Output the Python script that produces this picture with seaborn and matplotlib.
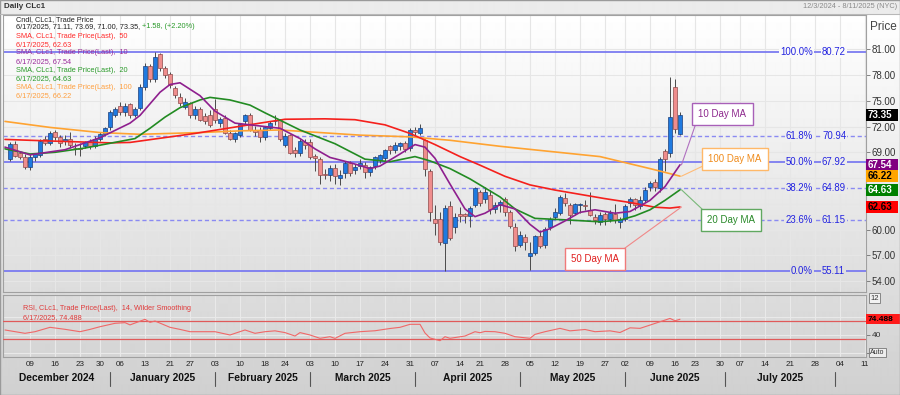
import numpy as np
import pandas as pd
import matplotlib
matplotlib.use("Agg")
import matplotlib.pyplot as plt
import matplotlib.transforms as mtransforms
from matplotlib.patches import Rectangle
import seaborn as sns

# ---------------- data ----------------
calendar_start = "2024-12-02"
calendar_end = "2025-08-11"
market_holidays = ["2024-12-25", "2025-01-01", "2025-01-20", "2025-02-17",
                   "2025-04-18", "2025-05-26", "2025-06-19", "2025-07-04"]
first_bar = "2024-12-03"

opens = [68.2, 70.0, 68.9, 68.5, 67.3, 68.4, 68.7, 70.5, 70.1, 71.4,
         70.8, 70.3, 70.6, 69.5, 69.5, 69.7, 70.3, 69.7, 70.6, 71.1,
         71.9, 73.3, 74.4, 73.7, 74.6, 73.4, 74.2, 76.6, 79.0, 77.5,
         80.4, 78.8, 78.1, 76.5, 75.5, 74.3, 74.7, 73.3, 74.1, 73.2,
         73.3, 74.1, 72.4, 73.0, 71.2, 70.6, 71.0, 72.6, 73.3, 71.6,
         71.6, 70.8, 71.8, 72.6, 72.8, 69.9, 71.0, 69.3, 68.9, 70.2,
         70.2, 68.6, 68.2, 66.5, 66.4, 67.2, 66.0, 66.6, 67.8, 66.9,
         67.4, 67.5, 66.7, 67.4, 68.1, 68.3, 69.7, 69.3, 69.7, 70.1,
         69.5, 71.6, 71.3, 70.4, 66.8, 61.2, 61.2, 58.4, 62.7, 60.3,
         61.8, 61.8, 61.6, 62.9, 64.4, 63.5, 64.0, 62.4, 62.9, 63.5,
         62.0, 60.35, 58.2, 59.1, 56.95, 57.3, 59.2, 58.2, 60.35, 61.5,
         61.9, 63.7, 62.9, 61.9, 62.9, 62.9, 62.3, 61.5, 60.9, 61.8,
         61.2, 61.8, 60.9, 61.2, 63.1, 63.5, 62.8, 63.45, 64.9, 65.5,
         64.8, 69.1, 68.96, 76.6, 71.11]
highs = [70.2, 70.3, 69.1, 68.8, 68.8, 68.9, 70.5, 70.9, 71.5, 71.6,
         71.0, 71.0, 71.4, 70.1, 70.1, 70.3, 70.5, 70.9, 71.4, 72.0,
         73.9, 74.3, 74.9, 74.8, 74.8, 74.3, 77.0, 79.4, 79.3, 80.72,
         80.6, 79.0, 78.3, 76.7, 75.9, 75.3, 74.9, 74.4, 74.3, 73.6,
         73.9, 75.2, 73.1, 73.3, 71.6, 71.4, 72.4, 73.5, 73.6, 72.1,
         71.9, 72.1, 72.6, 73.4, 72.9, 71.2, 71.1, 69.6, 70.5, 70.5,
         70.6, 68.8, 68.4, 67.0, 67.5, 67.6, 66.9, 68.0, 68.0, 67.6,
         68.2, 67.9, 67.4, 68.6, 68.8, 69.4, 69.9, 70.2, 70.2, 70.3,
         71.8, 72.0, 72.3, 70.6, 67.0, 62.9, 62.0, 62.9, 63.3, 61.9,
         62.6, 61.9, 62.8, 65.0, 64.6, 64.9, 64.6, 63.2, 63.4, 63.8,
         62.3, 60.8, 59.8, 59.5, 58.6, 59.4, 60.0, 60.3, 61.5, 62.5,
         64.0, 64.2, 63.1, 63.1, 63.1, 63.4, 64.4, 61.8, 62.0, 62.0,
         62.3, 63.0, 61.5, 63.0, 63.8, 63.7, 63.9, 64.9, 65.7, 65.9,
         68.4, 69.4, 77.8, 77.6, 73.69]
lows = [68.0, 68.5, 68.2, 67.0, 66.9, 68.0, 68.5, 69.8, 69.9, 70.4,
        69.6, 69.9, 69.5, 68.7, 68.6, 69.5, 69.4, 69.5, 70.3, 70.9,
        71.6, 73.1, 73.4, 73.2, 73.0, 73.1, 73.9, 76.3, 77.2, 77.2,
        78.5, 77.7, 76.5, 75.3, 74.4, 74.0, 73.0, 72.9, 72.6, 72.3,
        72.0, 72.4, 71.9, 71.1, 70.4, 70.2, 70.8, 72.3, 71.5, 70.9,
        70.2, 70.4, 71.6, 72.2, 70.3, 69.6, 68.8, 68.5, 68.6, 69.4,
        68.2, 66.8, 65.3, 65.9, 65.7, 65.3, 65.2, 66.0, 66.2, 66.5,
        67.0, 66.0, 66.2, 67.0, 67.8, 68.0, 68.8, 68.9, 69.3, 69.0,
        69.2, 71.0, 71.0, 66.2, 61.0, 59.4, 58.2, 55.2, 58.8, 59.6,
        60.9, 60.8, 60.3, 62.6, 62.8, 63.1, 61.8, 61.9, 62.1, 61.6,
        60.2, 57.5, 58.0, 57.6, 55.3, 57.0, 57.9, 57.9, 60.0, 61.2,
        61.7, 62.8, 60.6, 61.7, 61.9, 62.3, 61.6, 60.7, 60.5, 60.5,
        60.9, 60.8, 60.2, 61.0, 62.6, 62.3, 62.4, 63.2, 64.5, 64.5,
        64.4, 66.8, 68.5, 71.2, 71.00]
closes = [70.0, 68.6, 68.4, 67.3, 68.5, 68.8, 70.3, 70.1, 71.3, 70.8,
          70.1, 70.6, 69.9, 69.45, 69.4, 70.2, 69.7, 70.6, 71.1, 71.8,
          73.7, 74.1, 73.7, 74.4, 73.4, 74.0, 76.6, 79.0, 77.6, 80.1,
          78.8, 78.0, 76.8, 75.7, 74.7, 74.9, 73.4, 74.0, 72.8, 72.6,
          72.2, 72.8, 72.9, 71.2, 70.6, 71.2, 72.3, 73.3, 71.6, 71.4,
          70.8, 71.9, 72.4, 72.6, 70.6, 70.9, 68.9, 68.9, 70.3, 69.85,
          68.5, 68.3, 66.4, 66.3, 67.2, 66.2, 66.4, 67.8, 66.6, 67.3,
          67.8, 66.7, 67.3, 68.4, 68.7, 69.3, 69.3, 69.85, 70.1, 69.4,
          71.6, 71.4, 71.8, 67.0, 62.1, 60.8, 58.6, 62.5, 59.0, 61.5,
          61.6, 61.6, 62.5, 64.8, 63.1, 64.4, 62.4, 62.9, 63.2, 62.1,
          60.4, 58.1, 59.4, 58.5, 57.3, 59.2, 58.1, 60.1, 61.2, 62.1,
          63.8, 63.1, 61.7, 63.0, 62.9, 62.7, 61.7, 61.1, 61.7, 61.2,
          61.9, 61.1, 61.2, 62.7, 63.5, 62.9, 63.45, 64.6, 65.4, 65.0,
          68.2, 68.2, 73.1, 71.77, 73.35]

sma10_dates = ["2024-12-02", "2024-12-09", "2024-12-18", "2024-12-30", "2025-01-08",
               "2025-01-10", "2025-01-16", "2025-01-21", "2025-01-23", "2025-01-29",
               "2025-02-03", "2025-02-07", "2025-02-18", "2025-02-21", "2025-02-27",
               "2025-03-04", "2025-03-07", "2025-03-13", "2025-03-19", "2025-03-21",
               "2025-03-27", "2025-04-01", "2025-04-03", "2025-04-07", "2025-04-10",
               "2025-04-15", "2025-04-17", "2025-04-22", "2025-04-25", "2025-04-30",
               "2025-05-05", "2025-05-07", "2025-05-09", "2025-05-14", "2025-05-19",
               "2025-05-22", "2025-05-29", "2025-06-03", "2025-06-09", "2025-06-12",
               "2025-06-17"]
sma10_vals = [69.6, 68.7, 69.3, 70.7, 72.4, 73.3, 76.0, 76.9, 77.1, 75.6,
              73.8, 72.4, 72.0, 71.8, 70.6, 69.4, 68.4, 67.8, 67.1, 67.4,
              68.8, 69.9, 69.6, 68.3, 65.3, 62.4, 61.5, 61.9, 62.9, 62.4,
              60.6, 59.7, 60.1, 61.0, 62.0, 62.3, 61.9, 62.1, 63.4, 65.0,
              67.54]
sma20_dates = ["2024-12-02", "2024-12-09", "2024-12-16", "2024-12-24", "2025-01-09",
               "2025-01-14", "2025-01-17", "2025-01-23", "2025-01-29", "2025-01-31",
               "2025-02-06", "2025-02-12", "2025-02-18", "2025-02-27", "2025-03-10",
               "2025-03-18", "2025-03-25", "2025-04-01", "2025-04-04", "2025-04-10",
               "2025-04-16", "2025-04-25", "2025-04-30", "2025-05-06", "2025-05-15",
               "2025-05-23", "2025-05-30", "2025-06-04", "2025-06-09", "2025-06-12",
               "2025-06-17"]
sma20_vals = [69.4, 68.8, 69.0, 69.5, 70.6, 71.8, 73.1, 74.2, 75.1, 75.4,
              75.1, 74.5, 73.6, 71.6, 70.0, 68.2, 67.9, 68.5, 68.0, 67.1,
              65.9, 63.8, 62.4, 61.3, 61.1, 60.9, 61.1, 61.6, 62.3, 63.4,
              64.63]
sma50_dates = ["2024-12-02", "2024-12-16", "2025-01-02", "2025-01-08", "2025-01-28",
               "2025-02-14", "2025-02-24", "2025-03-06", "2025-03-14", "2025-03-24",
               "2025-03-31", "2025-04-07", "2025-04-14", "2025-04-21", "2025-04-28",
               "2025-05-05", "2025-05-12", "2025-05-19", "2025-05-27", "2025-06-03",
               "2025-06-10", "2025-06-13", "2025-06-17"]
sma50_vals = [70.5, 70.3, 70.1, 70.15, 71.2, 72.4, 72.85, 72.9, 72.8, 72.2,
              71.2, 69.9, 68.5, 67.5, 66.2, 65.2, 64.6, 64.1, 63.6, 63.15,
              62.6, 62.5, 62.63]
sma100_dates = ["2024-12-02", "2024-12-13", "2024-12-30", "2025-01-10", "2025-01-29",
                "2025-02-10", "2025-02-21", "2025-03-05", "2025-03-17", "2025-03-31",
                "2025-04-10", "2025-04-25", "2025-05-09", "2025-05-23", "2025-06-09",
                "2025-06-17"]
sma100_vals = [72.6, 71.9, 71.3, 71.1, 71.3, 71.5, 71.6, 71.3, 71.0, 70.8,
               70.4, 69.7, 69.1, 68.5, 67.1, 66.22]

rsi_dates = ["2024-12-02", "2024-12-06", "2024-12-10", "2024-12-13", "2024-12-18",
             "2024-12-23", "2024-12-26", "2024-12-30", "2025-01-03", "2025-01-07",
             "2025-01-08", "2025-01-13", "2025-01-14", "2025-01-15", "2025-01-21",
             "2025-01-23", "2025-01-27", "2025-01-29", "2025-02-03", "2025-02-06",
             "2025-02-11", "2025-02-13", "2025-02-18", "2025-02-20", "2025-02-24",
             "2025-02-26", "2025-02-27", "2025-03-03", "2025-03-05", "2025-03-07",
             "2025-03-10", "2025-03-12", "2025-03-17", "2025-03-20", "2025-03-25",
             "2025-03-27", "2025-03-31", "2025-04-02", "2025-04-03", "2025-04-04",
             "2025-04-08", "2025-04-09", "2025-04-10", "2025-04-15", "2025-04-17",
             "2025-04-21", "2025-04-22", "2025-04-24", "2025-04-28", "2025-04-30",
             "2025-05-05", "2025-05-06", "2025-05-08", "2025-05-13", "2025-05-15",
             "2025-05-20", "2025-05-22", "2025-05-28", "2025-05-30", "2025-06-03",
             "2025-06-05", "2025-06-09", "2025-06-11", "2025-06-13", "2025-06-16",
             "2025-06-17"]
rsi_vals = [50.7, 43.3, 46.9, 56.6, 52.2, 46.9, 52.0, 58.0, 65.5, 67.0,
            62.0, 74.4, 67.7, 70.6, 56.6, 52.0, 46.9, 46.9, 46.9, 39.6,
            50.7, 43.3, 46.9, 48.8, 44.9, 37.3, 44.9, 39.6, 32.2, 35.8,
            32.0, 43.3, 46.9, 49.0, 54.0, 56.6, 63.3, 63.3, 44.0, 33.0,
            26.9, 35.8, 32.2, 37.3, 46.9, 44.6, 47.5, 46.9, 43.3, 35.8,
            32.2, 41.0, 46.9, 54.3, 48.8, 51.8, 46.9, 48.8, 45.1, 55.5,
            54.3, 61.6, 69.0, 76.4, 71.2, 74.488]

fib_pcts = ["100.0%", "61.8%", "50.0%", "38.2%", "23.6%", "0.0%"]
fib_vals = [80.72, 70.94, 67.92, 64.89, 61.15, 55.11]
price_ticks = [54, 57, 60, 63, 66, 69, 72, 75, 78, 81]
price_ticks_hidden = [63, 66]   # covered by the value tags in the reference
month_names = ["December 2024", "January 2025", "February 2025", "March 2025",
               "April 2025", "May 2025", "June 2025", "July 2025", "August 2025"]

# ---------------- setup ----------------
sns.set_theme(style="white")
plt.rcParams["font.family"] = ["Liberation Sans", "DejaVu Sans"]

W, H = 900, 395
fig = plt.figure(figsize=(W / 100, H / 100), dpi=100)
fig.patch.set_facecolor("#d0d0d0")


def fxp(x):
    return x / W


def fyp(y):
    return 1 - y / H


def bg_level(y):
    if y < 14:
        return 0.925
    if y <= 292:
        return 1.0 - 0.135 * (y - 14) / 278
    return 0.865 - 0.05 * (y - 292) / 103


grad = np.array([bg_level(y) for y in range(H)])
bgimg = np.repeat(grad[:, None], 2, axis=1)
bgax = fig.add_axes([0, 0, 1, 1], zorder=-5)
bgax.imshow(bgimg, cmap="gray", vmin=0, vmax=1, aspect="auto",
            extent=[0, 1, 0, 1], interpolation="bilinear")
bgax.set_axis_off()
fig.add_artist(plt.Line2D([0, 1], [fyp(14), fyp(14)], color="#b8b8b8", lw=0.8))

# calendar
days = pd.bdate_range(calendar_start, calendar_end)
days = days[~days.isin(pd.to_datetime(market_holidays))]
pos = {d: i for i, d in enumerate(days)}


def xi(ds):
    return np.array([pos[pd.Timestamp(s)] for s in ds])


i0 = pos[pd.Timestamp(first_bar)]
bar_x = np.arange(i0, i0 + len(closes))
last_x = bar_x[-1]

week_pos, week_lab = [], []
wk = days.to_series().groupby(days.to_period("W-SUN")).first()
for d in wk:
    if d > days[0]:
        week_pos.append(pos[d])
        week_lab.append(d.strftime("%d"))

XL = (-0.4, 172.2)
PY = (52.72, 85.0)

# ---------------- price panel ----------------
ax = fig.add_axes([fxp(3), fyp(292), fxp(863), 277 / H])
ax.set_facecolor("none")
ax.set_xlim(*XL)
ax.set_ylim(*PY)
ax.set_xticks(week_pos)
ax.tick_params(axis="x", bottom=False, labelbottom=False)
ax.set_yticks(price_ticks)
ax.set_yticklabels(["" if v in price_ticks_hidden else f"{v:.2f}" for v in price_ticks])
ax.yaxis.tick_right()
ax.tick_params(axis="y", right=True, left=False, length=3, width=0.6,
               color="#707070", labelsize=7, labelcolor="#333333", pad=1)
ax.grid(True, color="#e6e6e6", lw=0.8)
for s in ax.spines.values():
    s.set_color("#a0a0a0")
    s.set_linewidth(0.8)

o = np.array(opens); h = np.array(highs); l = np.array(lows); c = np.array(closes)
up = c >= o
blo = np.minimum(o, c)
bh = np.maximum(np.abs(c - o), 0.07)
ax.vlines(bar_x, l, h, color="#4a4a4a", lw=0.7, zorder=3)
ax.bar(bar_x[up], bh[up], bottom=blo[up], width=0.64, color="#1f7ae0",
       edgecolor="#1d3f7a", lw=0.5, zorder=4)
ax.bar(bar_x[~up], bh[~up], bottom=blo[~up], width=0.64, color="#ef8d8d",
       edgecolor="#8e4a4a", lw=0.5, zorder=4)

ma_specs = [(sma100_dates, sma100_vals, "#ffa331"),
            (sma50_dates, sma50_vals, "#f5201c"),
            (sma20_dates, sma20_vals, "#228b22"),
            (sma10_dates, sma10_vals, "#8e1f8e")]
for dts, vals, col in ma_specs:
    sns.lineplot(x=xi(dts), y=vals, ax=ax, color=col, lw=1.2, estimator=None,
                 sort=False, legend=False, zorder=5)
ax.set_xlabel("")
ax.set_ylabel("")


def ypx(v):
    return 49.3 + (81 - v) * 8.581


for pct, v in zip(fib_pcts, fib_vals):
    solid = pct in ("100.0%", "50.0%", "0.0%")
    ax.axhline(v, color="#7b7bf0" if solid else "#8a8af2",
               lw=1.3 if solid else 1.0, ls="-" if solid else (0, (3, 2)), zorder=2)
    fc = str(bg_level(ypx(v)))
    ax.text(161.6, v, pct, ha="right", va="center", fontsize=6.9, color="#2323e0",
            zorder=6, bbox=dict(boxstyle="square,pad=0.12", fc=fc, ec="none"))
    ax.text(163.4, v, f"{v:.2f}", ha="left", va="center", fontsize=6.9,
            color="#2323e0", zorder=6,
            bbox=dict(boxstyle="square,pad=0.12", fc=fc, ec="none"))

# value tags on the right axis
trans = mtransforms.blended_transform_factory(ax.transAxes, ax.transData)
tags = [(closes[-1], "black", "white"), (sma10_vals[-1], "#800080", "white"),
        (sma100_vals[-1], "#ffa500", "black"), (sma20_vals[-1], "#008000", "white"),
        (sma50_vals[-1], "#ff0000", "black")]
tag_h = 11.5 / 8.581
for v, bgc, tc in tags:
    ax.add_patch(Rectangle((1.0, v - tag_h / 2), 32 / 863, tag_h, transform=trans,
                           fc=bgc, ec="none", clip_on=False, zorder=10))
    ax.text(1.0 + 1.5 / 863, v, f"{v:.2f}", transform=trans, ha="left", va="center",
            fontsize=7, weight="bold", color=tc, zorder=11, clip_on=False)

# MA callout boxes
callouts = [("10 Day MA", (722.5, 113.8), (695, 126), sma10_vals[-1], "#8e2a8e", "#a860b8", "#b070c0"),
            ("100 Day MA", (735, 158.8), (703, 166), sma100_vals[-1], "#f08c1c", "#ffb868", "#ffbb77"),
            ("20 Day MA", (731, 220.4), (702, 209), sma20_vals[-1], "#2a8a2a", "#60a860", "#78b878"),
            ("50 Day MA", (595.3, 259.2), (625, 248), sma50_vals[-1], "#e02020", "#f07a7a", "#f08888")]
for txt, (cx, cy), (sx, sy), endv, tcol, ecol, lcol in callouts:
    ax.annotate("", xy=(last_x + 0.3, endv), xycoords="data",
                xytext=(fxp(sx), fyp(sy)), textcoords="figure fraction",
                arrowprops=dict(arrowstyle="-", color=lcol, lw=0.8,
                                shrinkA=0, shrinkB=0), zorder=6)
    fig.text(fxp(cx), fyp(cy), txt, ha="center", va="center", fontsize=7,
             color=tcol, zorder=8,
             bbox=dict(boxstyle="square,pad=0.62", fc="white", ec=ecol, lw=1.0))

# legend text
leg = [("Cndl, CLc1, Trade Price", "#222222", 19.3),
       ("6/17/2025, 71.11, 73.69, 71.00, 73.35,", "#222222", 27.0),
       ("SMA, CLc1, Trade Price(Last),  50", "#ff2a2a", 36.0),
       ("6/17/2025, 62.63", "#ff2a2a", 44.4),
       ("SMA, CLc1, Trade Price(Last),  10", "#9a2a9a", 52.8),
       ("6/17/2025, 67.54", "#9a2a9a", 61.2),
       ("SMA, CLc1, Trade Price(Last),  20", "#2a9a2a", 70.0),
       ("6/17/2025, 64.63", "#2a9a2a", 78.6),
       ("SMA, CLc1, Trade Price(Last),  100", "#ffa040", 87.2),
       ("6/17/2025, 66.22", "#ffa040", 95.8)]
tl = []
for s, col, y in leg:
    tl.append(fig.text(fxp(16), fyp(y), s, fontsize=5.3, color=col, va="center",
                       ha="left", zorder=9))
ax.annotate(" +1.58, (+2.20%)", xy=(1, 0), xycoords=tl[1], va="bottom", ha="left",
            fontsize=5.3, color="#2a9a2a", annotation_clip=False)

fig.text(fxp(4), fyp(6.5), "Daily CLc1", fontsize=5.8, weight="bold",
         color="#333333", va="center")
fig.text(fxp(897), fyp(6.5), "12/3/2024 - 8/11/2025 (NYC)", fontsize=5.3,
         color="#8a8a8a", va="center", ha="right")
fig.text(fxp(870), fyp(27), "Price", fontsize=8.5, color="#444444", va="center")

# ---------------- RSI panel ----------------
rx = fig.add_axes([fxp(3), fyp(357), fxp(863), 62 / H], sharex=ax)
rx.set_facecolor("none")
rx.set_ylim(-9.3, 128.4)
rx.axhline(70, color="#e05a5a", lw=0.9, zorder=3)
rx.axhline(30, color="#e05a5a", lw=0.9, zorder=3)
sns.lineplot(x=xi(rsi_dates), y=rsi_vals, ax=rx, color="#f06868", lw=0.8,
             estimator=None, sort=False, legend=False, zorder=4)
rx.set_xlabel("")
rx.set_ylabel("")
rx.set_xlim(*XL)
rx.set_xticks(week_pos)
rx.set_xticklabels(week_lab)
rx.set_yticks([0, 40, 80])
rx.set_yticklabels(["", "40", ""])
rx.yaxis.tick_right()
rx.tick_params(axis="y", right=True, left=False, length=3, width=0.6,
               color="#707070", labelsize=6, labelcolor="#333333", pad=1)
rx.tick_params(axis="x", length=0, pad=3.2, labelsize=5.8, labelcolor="#222222")
rx.grid(True, color="#e9e9e9", lw=0.8)
for s in rx.spines.values():
    s.set_color("#a0a0a0")
    s.set_linewidth(0.8)

rtrans = mtransforms.blended_transform_factory(rx.transAxes, rx.transData)
rsi_last = rsi_vals[-1]
rx.add_patch(Rectangle((1.0, rsi_last - 5.0 / 0.45), 34 / 863, 10 / 0.45,
                       transform=rtrans, fc="#ff1a1a", ec="none", clip_on=False, zorder=10))
rx.text(1.0 + 1.5 / 863, rsi_last, f"{rsi_last:.3f}", transform=rtrans, ha="left",
        va="center", fontsize=6, weight="bold", color="black", zorder=11, clip_on=False)

fig.text(fxp(23), fyp(309), "RSI, CLc1, Trade Price(Last),  14, Wilder Smoothing",
         fontsize=5.2, color="#e03a3a", va="center")
fig.text(fxp(23), fyp(318), f"6/17/2025, {rsi_last:.3f}", fontsize=5.2,
         color="#e03a3a", va="center")
fig.text(fxp(874.5), fyp(298), "12", fontsize=5.5, color="#333333", va="center",
         ha="center", bbox=dict(boxstyle="square,pad=0.15", fc="#f2f2f2", ec="#777777", lw=0.6))
fig.text(fxp(877.5), fyp(352.5), "Auto", fontsize=5, color="#333333", va="center",
         ha="center", bbox=dict(boxstyle="square,pad=0.12", fc="#eeeeee", ec="#777777", lw=0.6))

# month labels and separators
btrans = mtransforms.blended_transform_factory(rx.transData, rx.transAxes)
mstarts = days.to_series().groupby(days.to_period("M")).first()
bounds = [pos[d] for d in mstarts]
edges = [XL[0]] + bounds[1:] + [XL[1]]
for k, name in enumerate(month_names):
    a, b = edges[k], edges[k + 1]
    if b - a > 12:
        rx.text((a + b) / 2, -0.34, name, transform=btrans, ha="center", va="center",
                fontsize=7.4, weight="bold", color="#111111", clip_on=False)
for bx in bounds[1:]:
    rx.plot([bx, bx], [-0.24, -0.47], transform=btrans, color="#555555", lw=0.8,
            clip_on=False)

fig.add_artist(Rectangle((0, 0), 1, 1, transform=fig.transFigure, fill=False,
                         ec="#9a9a9a", lw=1.0))

fig.savefig("out.png", dpi=100)
